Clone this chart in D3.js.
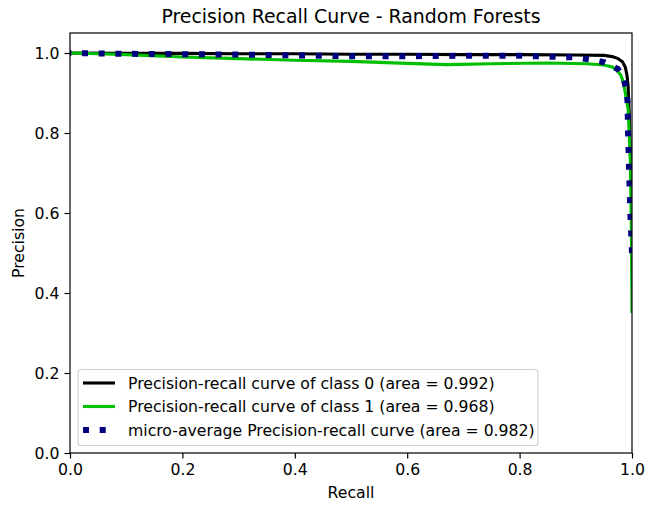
<!DOCTYPE html>
<html><head><meta charset="utf-8">
<script src="https://cdn.jsdelivr.net/npm/d3@7"></script>
<style>body{margin:0;background:#fff}svg{display:block}text{font-family:"DejaVu Sans",sans-serif}</style>
</head><body><div id="chart"></div>
<script>
const title = "Precision Recall Curve - Random Forests";
const xTicks = [0.0, 0.2, 0.4, 0.6, 0.8, 1.0];
const yTicks = [0.0, 0.2, 0.4, 0.6, 0.8, 1.0];
const legendLabels = [
  "Precision-recall curve of class 0 (area = 0.992)",
  "Precision-recall curve of class 1 (area = 0.968)",
  "micro-average Precision-recall curve (area = 0.982)"
];
const class0Recall = [0, 0.1, 0.2, 0.3, 0.4, 0.5, 0.6, 0.7, 0.8, 0.9, 0.95, 0.965, 0.975, 0.983, 0.988, 0.991, 0.993, 0.995, 0.997, 1.0];
const class0Prec   = [1.0, 0.999, 0.999, 0.998, 0.998, 0.997, 0.997, 0.996, 0.996, 0.995, 0.994, 0.991, 0.986, 0.978, 0.965, 0.945, 0.92, 0.85, 0.75, 0.65];
const class1Recall = [0, 0.05, 0.1, 0.2, 0.3, 0.4, 0.5, 0.6, 0.67, 0.75, 0.85, 0.92, 0.95, 0.965, 0.973, 0.98, 0.985, 0.99, 0.993, 0.995, 0.997, 0.999, 1.0];
const class1Prec   = [1.0, 0.998, 0.996, 0.99, 0.986, 0.982, 0.979, 0.974, 0.971, 0.973, 0.975, 0.973, 0.97, 0.965, 0.957, 0.945, 0.925, 0.885, 0.86, 0.8, 0.73, 0.55, 0.35];
const microRecall  = [0, 0.1, 0.2, 0.3, 0.4, 0.5, 0.6, 0.7, 0.8, 0.9, 0.93, 0.95, 0.975, 0.985, 0.989, 0.992, 0.993, 0.995, 0.997, 1.0];
const microPrec    = [1.0, 0.998, 0.997, 0.996, 0.994, 0.992, 0.992, 0.993, 0.993, 0.989, 0.983, 0.977, 0.96, 0.935, 0.915, 0.88, 0.8, 0.7, 0.6, 0.5];

const W = 646, H = 505;
const L = 70, R = 632, T = 33, B = 453;
const FS = 15.7;
const svg = d3.select("#chart").append("svg").attr("width", W).attr("height", H);
const x = d3.scaleLinear().domain([0, 1]).range([L, R]);
const y = d3.scaleLinear().domain([0, 1.05]).range([B, T]);

svg.append("defs").append("clipPath").attr("id", "clip")
  .append("rect").attr("x", L).attr("y", T).attr("width", R - L).attr("height", B - T);

const line = d3.line().x(d => x(d[0])).y(d => y(d[1]));
const zip = (a, b) => a.map((v, i) => [v, b[i]]);
const g = svg.append("g").attr("clip-path", "url(#clip)");
g.append("path").attr("d", line(zip(class0Recall, class0Prec))).attr("fill", "none").attr("stroke", "#000").attr("stroke-width", 3.1);
g.append("path").attr("d", line(zip(class1Recall, class1Prec))).attr("fill", "none").attr("stroke", "#00bf00").attr("stroke-width", 3.1);
g.append("path").attr("d", line(zip(microRecall, microPrec))).attr("fill", "none").attr("stroke", "#000080").attr("stroke-width", 6)
  .attr("stroke-dasharray", "6 10.7").attr("stroke-dashoffset", -12);

// axes
const xAxis = svg.append("g").attr("transform", `translate(0,${B})`)
  .call(d3.axisBottom(x).tickValues(xTicks).tickFormat(d3.format(".1f")).tickSize(5.5).tickPadding(5));
const yAxis = svg.append("g").attr("transform", `translate(${L},0)`)
  .call(d3.axisLeft(y).tickValues(yTicks).tickFormat(d3.format(".1f")).tickSize(5.5).tickPadding(5));
[xAxis, yAxis].forEach(a => {
  a.select(".domain").remove();
  a.selectAll("line").attr("stroke", "#000").attr("stroke-width", 1.2);
  a.selectAll("text").attr("fill", "#000").style("font-size", FS + "px").style("font-family", "DejaVu Sans");
});
svg.append("rect").attr("x", L).attr("y", T).attr("width", R - L).attr("height", B - T)
  .attr("fill", "none").attr("stroke", "#000").attr("stroke-width", 1.2);

svg.append("text").attr("x", (L + R) / 2).attr("y", 23).attr("text-anchor", "middle")
  .style("font-size", "18.9px").attr("fill", "#000").text(title);
svg.append("text").attr("x", (L + R) / 2).attr("y", 498).attr("text-anchor", "middle")
  .style("font-size", FS + "px").attr("fill", "#000").text("Recall");
svg.append("text").attr("transform", `translate(24,${(T + B) / 2}) rotate(-90)`).attr("text-anchor", "middle")
  .style("font-size", FS + "px").attr("fill", "#000").text("Precision");

// legend
const lg = svg.append("g");
lg.append("rect").attr("x", 78).attr("y", 369.5).attr("width", 460).attr("height", 76).attr("rx", 3)
  .attr("fill", "#fff").attr("fill-opacity", 0.8).attr("stroke", "#cccccc").attr("stroke-width", 1.1);
const styles = [
  {stroke: "#000", w: 3.1, dash: null},
  {stroke: "#00bf00", w: 3.1, dash: null},
  {stroke: "#000080", w: 6, dash: "6 10.7"}
];
legendLabels.forEach((lab, i) => {
  const yy = 383 + i * 23.5;
  const ln = lg.append("line").attr("x1", 83).attr("x2", 115).attr("y1", yy).attr("y2", yy)
    .attr("stroke", styles[i].stroke).attr("stroke-width", styles[i].w);
  if (styles[i].dash) ln.attr("stroke-dasharray", styles[i].dash);
  lg.append("text").attr("x", 128).attr("y", yy).attr("dy", "0.36em")
    .style("font-size", FS + "px").attr("fill", "#000").text(lab);
});
</script></body></html>
